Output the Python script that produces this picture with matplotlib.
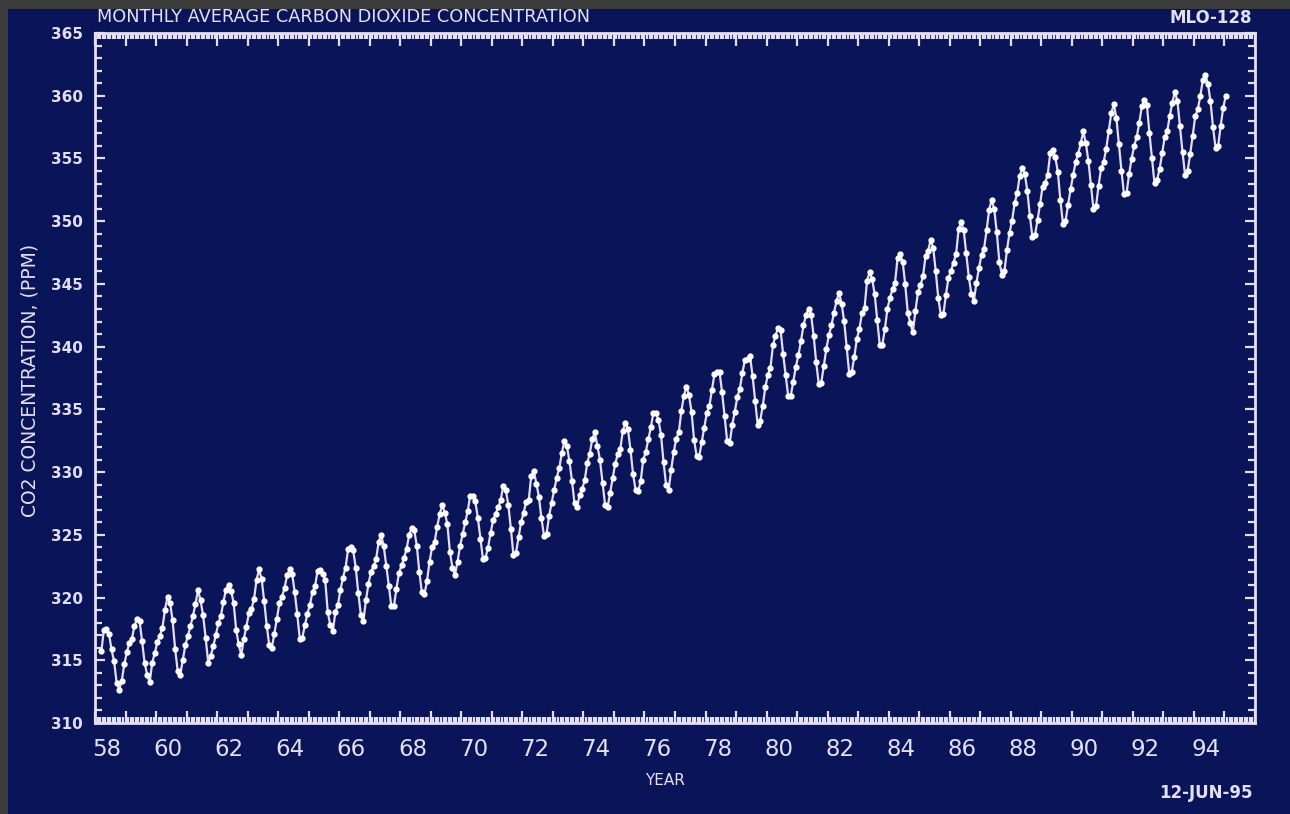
import matplotlib.pyplot as plt
from matplotlib.patches import Rectangle
from matplotlib.ticker import MultipleLocator

# monthly mean CO2 at Mauna Loa (ppm), Jan..Dec; 1958 starts in March
co2_1958 = [315.71, 317.45, 317.50, 317.10, 315.86, 314.93, 313.20, 312.66, 313.33, 314.67]
co2_1959 = [315.62, 316.38, 316.71, 317.72, 318.29, 318.15, 316.54, 314.80, 313.84, 313.26, 314.80, 315.58]
co2_1960 = [316.43, 316.97, 317.58, 319.02, 320.03, 319.59, 318.18, 315.91, 314.16, 313.83, 315.00, 316.19]
co2_1961 = [316.93, 317.70, 318.54, 319.48, 320.58, 319.77, 318.57, 316.79, 314.80, 315.38, 316.10, 317.01]
co2_1962 = [317.94, 318.56, 319.68, 320.63, 321.01, 320.55, 319.58, 317.40, 316.26, 315.42, 316.69, 317.69]
co2_1963 = [318.74, 319.08, 319.86, 321.39, 322.25, 321.47, 319.74, 317.77, 316.21, 315.99, 317.12, 318.31]
co2_1964 = [319.57, 320.07, 320.73, 321.77, 322.25, 321.89, 320.44, 318.70, 316.70, 316.79, 317.79, 318.71]
co2_1965 = [319.44, 320.44, 320.89, 322.13, 322.16, 321.87, 321.39, 318.81, 317.81, 317.30, 318.87, 319.42]
co2_1966 = [320.62, 321.59, 322.39, 323.87, 324.01, 323.75, 322.39, 320.37, 318.64, 318.10, 319.79, 321.08]
co2_1967 = [322.07, 322.50, 323.04, 324.42, 325.00, 324.09, 322.55, 320.92, 319.31, 319.31, 320.72, 321.96]
co2_1968 = [322.57, 323.15, 323.89, 325.02, 325.57, 325.36, 324.14, 322.03, 320.41, 320.25, 321.31, 322.84]
co2_1969 = [324.00, 324.42, 325.64, 326.66, 327.34, 326.76, 325.88, 323.67, 322.38, 321.78, 322.85, 324.11]
co2_1970 = [325.03, 325.99, 326.87, 328.13, 328.07, 327.66, 326.35, 324.69, 323.10, 323.16, 323.98, 325.13]
co2_1971 = [326.17, 326.68, 327.18, 327.78, 328.92, 328.57, 327.34, 325.46, 323.36, 323.57, 324.80, 326.01]
co2_1972 = [326.77, 327.63, 327.75, 329.72, 330.07, 329.09, 328.05, 326.32, 324.93, 325.06, 326.50, 327.55]
co2_1973 = [328.54, 329.56, 330.30, 331.50, 332.48, 332.07, 330.87, 329.31, 327.51, 327.18, 328.16, 328.64]
co2_1974 = [329.35, 330.71, 331.48, 332.65, 333.16, 332.06, 330.99, 329.17, 327.41, 327.20, 328.33, 329.50]
co2_1975 = [330.68, 331.41, 331.85, 333.29, 333.91, 333.40, 331.78, 329.88, 328.57, 328.46, 329.26, 330.97]
co2_1976 = [331.60, 332.60, 333.57, 334.72, 334.68, 334.17, 332.96, 330.80, 328.98, 328.57, 330.20, 331.58]
co2_1977 = [332.67, 333.17, 334.86, 336.07, 336.82, 336.12, 334.81, 332.56, 331.30, 331.22, 332.37, 333.49]
co2_1978 = [334.71, 335.23, 336.54, 337.79, 337.95, 338.00, 336.37, 334.47, 332.46, 332.29, 333.76, 334.80]
co2_1979 = [336.00, 336.63, 337.93, 338.95, 339.05, 339.27, 337.64, 335.68, 333.77, 334.09, 335.29, 336.76]
co2_1980 = [337.77, 338.26, 340.10, 340.88, 341.47, 341.31, 339.41, 337.74, 336.07, 336.07, 337.22, 338.38]
co2_1981 = [339.32, 340.41, 341.69, 342.51, 343.02, 342.54, 340.88, 338.75, 337.05, 337.13, 338.45, 339.85]
co2_1982 = [340.90, 341.70, 342.70, 343.65, 344.28, 343.42, 342.02, 339.97, 337.84, 338.00, 339.20, 340.63]
co2_1983 = [341.41, 342.68, 343.04, 345.27, 345.92, 345.40, 344.16, 342.11, 340.11, 340.15, 341.38, 343.02]
co2_1984 = [343.87, 344.59, 345.11, 347.07, 347.38, 346.78, 344.96, 342.71, 341.86, 341.13, 342.84, 344.32]
co2_1985 = [344.88, 345.62, 347.23, 347.62, 348.53, 347.87, 346.00, 343.86, 342.55, 342.57, 344.11, 345.49]
co2_1986 = [346.04, 346.70, 347.38, 349.38, 349.93, 349.26, 347.44, 345.55, 344.21, 343.67, 345.09, 346.27]
co2_1987 = [347.33, 347.82, 349.29, 350.91, 351.71, 350.94, 349.10, 346.77, 345.73, 346.01, 347.70, 349.08]
co2_1988 = [350.03, 351.42, 352.22, 353.59, 354.22, 353.79, 352.39, 350.43, 348.72, 348.88, 350.07, 351.34]
co2_1989 = [352.76, 353.07, 353.68, 355.42, 355.67, 355.13, 353.90, 351.67, 349.80, 349.99, 351.30, 352.53]
co2_1990 = [353.66, 354.70, 355.39, 356.20, 357.16, 356.22, 354.82, 352.91, 350.96, 351.18, 352.83, 354.21]
co2_1991 = [354.72, 355.75, 357.16, 358.60, 359.34, 358.24, 356.17, 354.03, 352.16, 352.21, 353.75, 354.99]
co2_1992 = [355.98, 356.72, 357.81, 359.15, 359.66, 359.25, 357.03, 355.00, 353.01, 353.31, 354.16, 355.40]
co2_1993 = [356.70, 357.17, 358.38, 359.46, 360.28, 359.60, 357.57, 355.52, 353.70, 353.98, 355.33, 356.80]
co2_1994 = [358.36, 358.91, 359.97, 361.26, 361.68, 360.95, 359.55, 357.49, 355.84, 355.99, 357.58, 359.04]
co2_1995 = [359.97]

yearly = [co2_1958, co2_1959, co2_1960, co2_1961, co2_1962, co2_1963, co2_1964,
          co2_1965, co2_1966, co2_1967, co2_1968, co2_1969, co2_1970, co2_1971,
          co2_1972, co2_1973, co2_1974, co2_1975, co2_1976, co2_1977, co2_1978,
          co2_1979, co2_1980, co2_1981, co2_1982, co2_1983, co2_1984, co2_1985,
          co2_1986, co2_1987, co2_1988, co2_1989, co2_1990, co2_1991, co2_1992,
          co2_1993, co2_1994, co2_1995]

year_labels = ['58', '60', '62', '64', '66', '68', '70', '72', '74', '76',
               '78', '80', '82', '84', '86', '88', '90', '92', '94']

t, co2 = [], []
for i, vals in enumerate(yearly):
    first_month = 2 if i == 0 else 0
    for j, v in enumerate(vals):
        t.append(1958 + i + (first_month + j + 0.5) / 12)
        co2.append(v)

navy = '#0a1459'
ink = '#e4def2'

fig = plt.figure(figsize=(12.9, 8.14), dpi=100, facecolor=navy)
ax = fig.add_axes([95 / 1290, 1 - 723 / 814, 1160 / 1290, 690 / 814])
ax.set_facecolor(navy)

ax.plot(t, co2, color=ink, lw=1.6, marker='o', ms=3.5, mfc='white', mec='white')

ax.set_xlim(1958, 1996)
ax.set_ylim(310, 365)

for s in ax.spines.values():
    s.set_color(ink)
    s.set_linewidth(2)

ax.xaxis.set_major_locator(MultipleLocator(1))
ax.xaxis.set_minor_locator(MultipleLocator(1 / 12))
ax.yaxis.set_major_locator(MultipleLocator(5))
ax.yaxis.set_minor_locator(MultipleLocator(1))
ax.tick_params(which='both', direction='in', top=True, right=True, color=ink, width=1.6)
ax.tick_params(axis='x', which='major', length=9, labelbottom=False)
ax.tick_params(axis='x', which='minor', length=4)
ax.tick_params(axis='y', which='major', length=7, labelsize=11, labelcolor=ink, pad=9)
ax.tick_params(axis='y', which='minor', length=5)
for lbl in ax.get_yticklabels():
    lbl.set_fontweight('bold')

sec = ax.secondary_xaxis('bottom')
sec.set_xticks([1900 + int(y) + 0.4 for y in year_labels], year_labels)
sec.tick_params(length=0, labelsize=16.5, labelcolor=ink, pad=11)
sec.spines['bottom'].set_visible(False)

fig.text(97 / 1290, 1 - 22 / 814, 'MONTHLY AVERAGE CARBON DIOXIDE CONCENTRATION',
         color=ink, fontsize=12.8, ha='left', va='baseline')
fig.text(1252 / 1290, 1 - 23 / 814, 'MLO-128', color=ink, fontsize=12,
         fontweight='bold', ha='right', va='baseline')
fig.text(665 / 1290, 1 - 785 / 814, 'YEAR', color=ink, fontsize=11,
         ha='center', va='baseline')
fig.text(1253 / 1290, 1 - 798 / 814, '12-JUN-95', color=ink, fontsize=12,
         fontweight='bold', ha='right', va='baseline')
fig.text(30 / 1290, 1 - 380 / 814, 'CO2 CONCENTRATION, (PPM)', color=ink,
         fontsize=13.5, rotation=90, ha='center', va='center')

# dark grey frame of the photo along the top and left edges
fig.add_artist(Rectangle((0, 1 - 9 / 814), 1, 9 / 814, transform=fig.transFigure,
                         facecolor='#3b3b3b', edgecolor='none', zorder=10))
fig.add_artist(Rectangle((0, 0), 8 / 1290, 1, transform=fig.transFigure,
                         facecolor='#3b3b3b', edgecolor='none', zorder=10))

fig.savefig('out.png', dpi=100, facecolor=navy)
